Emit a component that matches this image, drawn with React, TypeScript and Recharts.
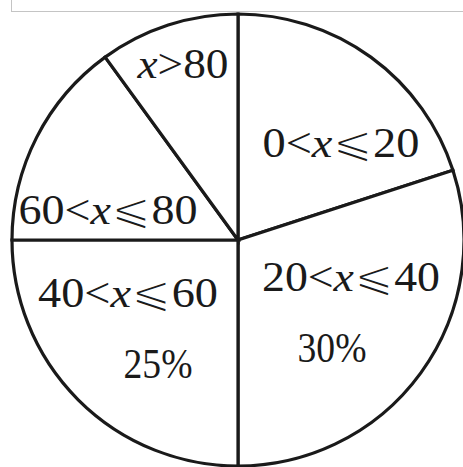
import { Pie, PieChart } from "recharts"

// score bands and their share of the circle
const categories = ["0<x⩽20", "20<x⩽40", "40<x⩽60", "60<x⩽80", "x>80"]
const shares = [20, 30, 25, 15, 10]
const percentLabels = ["", "30%", "25%", "", ""]

const data = categories.map((name, i) => ({ name, value: shares[i] }))

// where each label sits (baseline centre, relative to the pie centre) and how wide it is
const labelSpots = [
  { dx: 103, dy: -83, w: 157 },
  { dx: 113, dy: 51, w: 178 },
  { dx: -110, dy: 67, w: 180 },
  { dx: -130, dy: -16, w: 179 },
  { dx: -55, dy: -162, w: 91 },
]
const percentSpots = [null, { dx: 94, dy: 122, w: 69 }, { dx: -80, dy: 138, w: 69 }, null, null]

const FONT = "'Liberation Serif', 'Times New Roman', serif"

function renderName(name: string) {
  // the variable x is set in italics; the ⩽ comes from a fallback font,
  // thinned with a white outline so it matches the light serif strokes
  const [before, after] = name.split("x")
  const rest = after.startsWith("⩽") ? (
    <>
      <tspan
        fontFamily="'DejaVu Sans', sans-serif"
        fontSize={44}
        stroke="#fff"
        strokeWidth={1.6}
      >
        ⩽
      </tspan>
      {after.slice(1)}
    </>
  ) : (
    after
  )
  return (
    <>
      {before}
      <tspan fontStyle="italic">x</tspan>
      {rest}
    </>
  )
}

function SliceLabel(props: any) {
  const { cx, cy, index } = props
  const spot = labelSpots[index]
  const pct = percentSpots[index]
  return (
    <g>
      <text
        x={cx + spot.dx}
        y={cy + spot.dy}
        textAnchor="middle"
        fontFamily={FONT}
        fontSize={42}
        fill="#1a1a1a"
        textLength={spot.w}
        lengthAdjust="spacingAndGlyphs"
      >
        {renderName(categories[index])}
      </text>
      {pct && (
        <text
          x={cx + pct.dx}
          y={cy + pct.dy}
          textAnchor="middle"
          fontFamily={FONT}
          fontSize={43}
          fill="#1a1a1a"
          textLength={pct.w}
          lengthAdjust="spacingAndGlyphs"
        >
          {percentLabels[index]}
        </text>
      )}
    </g>
  )
}

export default function App() {
  return (
    <div style={{ position: "absolute", left: 0, top: 0, width: 463, height: 467, background: "#fff", overflow: "hidden" }}>
      <div
        style={{
          position: "absolute",
          left: 11,
          top: -4,
          width: 470,
          height: 14,
          border: "1.5px solid #c4c4c4",
        }}
      />
      <PieChart width={463} height={467} margin={{ top: 0, right: 0, bottom: 0, left: 0 }}>
        <Pie
          data={data}
          dataKey="value"
          nameKey="name"
          cx={238}
          cy={240}
          outerRadius={226}
          startAngle={90}
          endAngle={-270}
          fill="#fff"
          stroke="#1a1a1a"
          strokeWidth={3.2}
          label={SliceLabel}
          labelLine={false}
          isAnimationActive={false}
        />
      </PieChart>
    </div>
  )
}
